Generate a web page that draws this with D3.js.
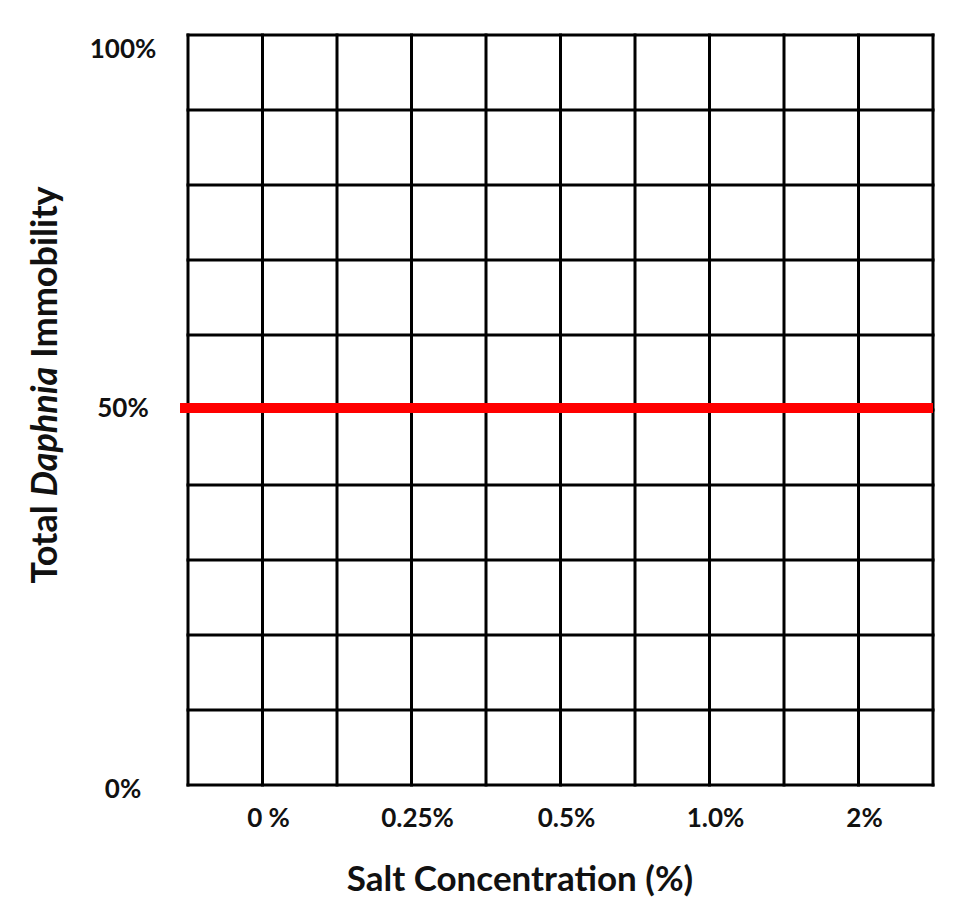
<!DOCTYPE html>
<html>
<head>
<meta charset="utf-8">
<script src="https://cdn.jsdelivr.net/npm/d3@7"></script>
<style>
  html, body { margin: 0; padding: 0; background: #ffffff; }
  svg { display: block; }
  text { font-family: Lato, "Open Sans", sans-serif; font-weight: bold; fill: #111; }
</style>
</head>
<body>
<svg id="chart" width="959" height="901"></svg>
<script>
// ---- data ----
const categories = ["0 %", "0.25%", "0.5%", "1.0%", "2%"];
const yTickValues = [0, 50, 100];
const yTickLabels = ["0%", "50%", "100%"];
const gridSteps = [0, 10, 20, 30, 40, 50, 60, 70, 80, 90, 100];
const thresholdValue = [50];
const xTitle = "Salt Concentration (%)";
const yTitleParts = ["Total ", "Daphnia", " Immobility"];

// ---- layout ----
const svg = d3.select("#chart");
const plotLeft = 188, plotRight = 933, plotTop = 35, plotBottom = 785;

const x = d3.scaleBand().domain(categories).range([plotLeft, plotRight]);
const xGrid = d3.scaleLinear().domain([0, categories.length * 2]).range([plotLeft, plotRight]);
const y = d3.scaleLinear().domain([0, 100]).range([plotBottom, plotTop]);

// grid
const g = svg.append("g");
g.selectAll("line.h").data(gridSteps).enter().append("line")
  .attr("class", "h")
  .attr("x1", plotLeft - 1.5).attr("x2", plotRight + 1.5)
  .attr("y1", d => y(d)).attr("y2", d => y(d))
  .attr("stroke", "#000").attr("stroke-width", 3);
g.selectAll("line.v").data(d3.range(categories.length * 2 + 1)).enter().append("line")
  .attr("class", "v")
  .attr("x1", d => xGrid(d)).attr("x2", d => xGrid(d))
  .attr("y1", plotTop - 1.5).attr("y2", plotBottom + 1.5)
  .attr("stroke", "#000").attr("stroke-width", 3);

// threshold red line
svg.selectAll("line.thr").data(thresholdValue).enter().append("line")
  .attr("class", "thr")
  .attr("x1", plotLeft - 8).attr("x2", plotRight)
  .attr("y1", d => y(d) - 2).attr("y2", d => y(d) - 2)
  .attr("stroke", "#ff0000").attr("stroke-width", 10);

// y tick labels
svg.selectAll("text.yt").data(yTickValues).enter().append("text")
  .attr("class", "yt")
  .attr("x", 123)
  .attr("y", d => y(d))
  .attr("dy", d => d === 100 ? 23 : (d === 0 ? 13 : 7))
  .attr("text-anchor", "middle")
  .style("font-size", "26px")
  .text((d, i) => yTickLabels[i]);

// x tick labels
svg.selectAll("text.xt").data(categories).enter().append("text")
  .attr("class", "xt")
  .attr("x", d => x(d) + x.bandwidth() / 2 + 6)
  .attr("y", 827)
  .attr("text-anchor", "middle")
  .style("font-size", "26px")
  .text(d => d);

// x title
svg.append("text")
  .attr("x", 520).attr("y", 891)
  .attr("text-anchor", "middle")
  .style("font-size", "35px")
  .text(xTitle);

// y title
const yt = svg.append("text")
  .attr("transform", "translate(57,385) rotate(-90)")
  .attr("text-anchor", "middle")
  .style("font-size", "36px");
yt.selectAll("tspan").data(yTitleParts).enter().append("tspan")
  .style("font-style", (d, i) => i === 1 ? "italic" : "normal")
  .text(d => d);
</script>
</body>
</html>
